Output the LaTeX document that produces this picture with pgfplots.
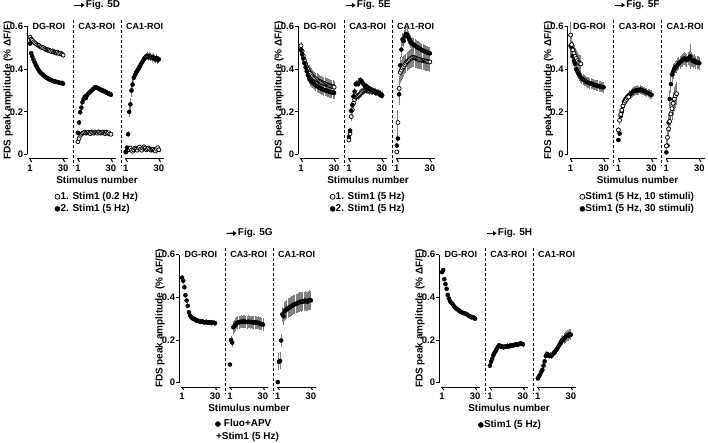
\documentclass[border=0pt]{standalone}
\usepackage{fontspec}
\setmainfont{Liberation Sans}
\usepackage{pgfplots}
\usepackage{pgfplotstable}
\pgfplotsset{compat=1.18}
\usetikzlibrary{arrows.meta}
\definecolor{eb}{gray}{0.5}

\pgfplotstableread{
n dgO dgOe dgF dgFe caO caOe caF caFe cbO cbOe cbF cbFe
1 0.550 0.012 0.520 0.012 0.060 0.008 0.102 0.008 0.012 0.006 0.012 0.006
2 0.540 0.012 0.475 0.012 0.075 0.008 0.150 0.010 0.020 0.008 0.032 0.008
3 0.535 0.012 0.460 0.010 0.090 0.008 0.198 0.012 0.030 0.008 0.095 0.015
4 0.528 0.012 0.445 0.010 0.095 0.010 0.220 0.015 0.022 0.008 0.200 0.025
5 0.524 0.012 0.432 0.010 0.100 0.010 0.245 0.015 0.030 0.008 0.235 0.030
6 0.520 0.012 0.420 0.010 0.102 0.010 0.260 0.015 0.020 0.008 0.300 0.030
7 0.515 0.012 0.410 0.010 0.105 0.010 0.270 0.015 0.015 0.008 0.328 0.025
8 0.512 0.012 0.400 0.010 0.100 0.010 0.265 0.015 0.022 0.008 0.360 0.020
9 0.510 0.012 0.392 0.010 0.102 0.010 0.278 0.012 0.030 0.008 0.372 0.020
10 0.505 0.012 0.385 0.010 0.105 0.010 0.285 0.012 0.025 0.008 0.385 0.018
11 0.503 0.012 0.380 0.010 0.100 0.010 0.290 0.012 0.020 0.008 0.392 0.018
12 0.500 0.012 0.375 0.010 0.098 0.010 0.295 0.012 0.030 0.008 0.400 0.018
13 0.500 0.012 0.370 0.010 0.105 0.010 0.300 0.012 0.035 0.008 0.410 0.018
14 0.495 0.012 0.365 0.010 0.102 0.010 0.305 0.012 0.025 0.008 0.420 0.018
15 0.492 0.012 0.362 0.010 0.100 0.010 0.310 0.012 0.020 0.008 0.430 0.018
16 0.490 0.012 0.358 0.010 0.105 0.010 0.315 0.012 0.030 0.008 0.440 0.018
17 0.490 0.012 0.355 0.010 0.102 0.010 0.314 0.012 0.036 0.008 0.448 0.018
18 0.488 0.012 0.352 0.010 0.100 0.010 0.312 0.012 0.030 0.008 0.455 0.018
19 0.485 0.012 0.350 0.010 0.106 0.010 0.310 0.012 0.022 0.008 0.460 0.018
20 0.482 0.012 0.348 0.010 0.104 0.010 0.306 0.012 0.026 0.008 0.462 0.018
21 0.485 0.012 0.345 0.010 0.100 0.010 0.304 0.012 0.030 0.008 0.458 0.018
22 0.480 0.012 0.343 0.010 0.102 0.010 0.300 0.012 0.025 0.008 0.462 0.018
23 0.480 0.012 0.342 0.010 0.105 0.010 0.300 0.012 0.020 0.008 0.456 0.018
24 0.476 0.012 0.340 0.010 0.100 0.010 0.296 0.012 0.022 0.008 0.452 0.018
25 0.480 0.012 0.340 0.010 0.098 0.010 0.294 0.012 0.025 0.008 0.456 0.018
26 0.475 0.012 0.338 0.010 0.104 0.010 0.290 0.012 0.020 0.008 0.450 0.018
27 0.472 0.012 0.336 0.010 0.100 0.010 0.288 0.012 0.016 0.008 0.446 0.018
28 0.475 0.012 0.334 0.010 0.102 0.010 0.285 0.012 0.025 0.008 0.452 0.018
29 0.470 0.012 0.336 0.010 0.096 0.010 0.284 0.012 0.032 0.008 0.442 0.018
30 0.466 0.012 0.332 0.010 0.095 0.010 0.280 0.012 0.022 0.008 0.446 0.018
}\tabD

\pgfplotstableread{
n dgO dgOe dgF dgFe caO caOe caF caFe cbO cbOe cbF cbFe
1 0.510 0.015 0.490 0.015 0.068 0.006 0.082 0.008 0.012 0.006 0.042 0.010
2 0.485 0.025 0.470 0.020 0.098 0.010 0.112 0.010 0.150 0.060 0.075 0.015
3 0.462 0.030 0.450 0.025 0.178 0.020 0.205 0.015 0.310 0.060 0.282 0.050
4 0.442 0.030 0.428 0.028 0.210 0.020 0.232 0.015 0.385 0.050 0.418 0.040
5 0.425 0.030 0.408 0.028 0.240 0.020 0.272 0.015 0.395 0.050 0.492 0.035
6 0.410 0.030 0.390 0.028 0.258 0.020 0.295 0.015 0.405 0.050 0.540 0.030
7 0.398 0.030 0.372 0.028 0.268 0.020 0.330 0.015 0.412 0.050 0.532 0.030
8 0.388 0.030 0.360 0.028 0.270 0.020 0.332 0.015 0.420 0.045 0.555 0.030
9 0.380 0.030 0.350 0.028 0.275 0.020 0.330 0.015 0.428 0.045 0.565 0.030
10 0.374 0.030 0.344 0.028 0.280 0.020 0.338 0.015 0.435 0.045 0.562 0.030
11 0.368 0.030 0.338 0.028 0.285 0.020 0.350 0.015 0.440 0.045 0.550 0.030
12 0.362 0.030 0.333 0.028 0.290 0.020 0.345 0.015 0.445 0.045 0.540 0.030
13 0.358 0.030 0.328 0.028 0.295 0.018 0.335 0.015 0.450 0.045 0.530 0.030
14 0.354 0.030 0.324 0.028 0.298 0.018 0.328 0.015 0.452 0.045 0.522 0.030
15 0.350 0.030 0.320 0.028 0.300 0.018 0.322 0.015 0.455 0.045 0.518 0.030
16 0.346 0.030 0.318 0.028 0.300 0.018 0.320 0.015 0.455 0.045 0.514 0.030
17 0.343 0.030 0.314 0.028 0.302 0.018 0.316 0.015 0.452 0.045 0.510 0.030
18 0.340 0.030 0.311 0.028 0.300 0.018 0.312 0.015 0.450 0.045 0.506 0.030
19 0.338 0.030 0.308 0.028 0.298 0.018 0.308 0.015 0.448 0.045 0.502 0.030
20 0.335 0.030 0.305 0.028 0.300 0.018 0.305 0.015 0.446 0.045 0.500 0.030
21 0.333 0.030 0.303 0.028 0.296 0.018 0.302 0.015 0.445 0.045 0.496 0.030
22 0.331 0.030 0.301 0.028 0.295 0.018 0.300 0.015 0.444 0.045 0.493 0.030
23 0.329 0.030 0.300 0.028 0.295 0.018 0.298 0.015 0.442 0.045 0.490 0.030
24 0.327 0.030 0.298 0.028 0.292 0.018 0.295 0.015 0.440 0.045 0.487 0.030
25 0.325 0.030 0.296 0.028 0.290 0.018 0.292 0.015 0.440 0.045 0.485 0.030
26 0.323 0.030 0.295 0.028 0.290 0.018 0.290 0.015 0.438 0.045 0.482 0.030
27 0.321 0.030 0.293 0.028 0.288 0.018 0.288 0.015 0.437 0.045 0.480 0.030
28 0.320 0.030 0.292 0.028 0.285 0.018 0.285 0.015 0.436 0.045 0.478 0.030
29 0.318 0.030 0.290 0.028 0.282 0.018 0.280 0.015 0.435 0.045 0.476 0.030
30 0.316 0.030 0.289 0.028 0.278 0.018 0.276 0.015 0.434 0.045 0.474 0.030
}\tabE

\pgfplotstableread{
n dgF dgFe caF caFe cbF cbFe
1 0.510 0.060 0.068 0.005 0.010 0.005
2 0.500 0.040 0.098 0.008 0.042 0.010
3 0.460 0.035 0.180 0.020 0.150 0.040
4 0.440 0.030 0.200 0.020 0.260 0.040
5 0.425 0.030 0.228 0.020 0.330 0.040
6 0.400 0.028 0.248 0.020 0.375 0.035
7 0.390 0.025 0.258 0.020 0.390 0.035
8 0.380 0.025 0.265 0.020 0.400 0.030
9 0.370 0.025 0.270 0.020 0.410 0.030
10 0.362 0.025 0.275 0.020 0.412 0.030
11 0.356 0.025 0.280 0.020 0.420 0.030
12 0.352 0.025 0.285 0.022 0.428 0.030
13 0.348 0.025 0.290 0.022 0.432 0.030
14 0.344 0.025 0.295 0.022 0.438 0.030
15 0.340 0.025 0.298 0.022 0.442 0.030
16 0.338 0.025 0.300 0.022 0.448 0.030
17 0.336 0.025 0.300 0.022 0.450 0.030
18 0.334 0.025 0.302 0.022 0.446 0.030
19 0.332 0.025 0.300 0.022 0.442 0.030
20 0.330 0.025 0.305 0.022 0.450 0.030
21 0.328 0.025 0.302 0.020 0.452 0.035
22 0.326 0.025 0.300 0.020 0.460 0.060
23 0.325 0.025 0.298 0.020 0.445 0.035
24 0.323 0.025 0.296 0.020 0.440 0.030
25 0.322 0.025 0.292 0.020 0.436 0.030
26 0.320 0.025 0.290 0.020 0.440 0.030
27 0.318 0.025 0.288 0.020 0.432 0.030
28 0.317 0.025 0.285 0.020 0.430 0.030
29 0.316 0.025 0.282 0.020 0.432 0.030
30 0.315 0.025 0.280 0.020 0.428 0.030
}\tabF

\pgfplotstableread{
n dgO dgOe caO caOe cbO cbOe
1 0.560 0.060 0.115 0.015 0.040 0.030
2 0.515 0.045 0.160 0.020 0.080 0.045
3 0.490 0.040 0.188 0.020 0.120 0.050
4 0.475 0.040 0.208 0.020 0.155 0.050
5 0.460 0.040 0.228 0.020 0.190 0.055
6 0.450 0.040 0.242 0.020 0.215 0.055
7 0.440 0.040 0.250 0.020 0.240 0.055
8 0.432 0.040 0.258 0.020 0.260 0.055
9 0.428 0.040 0.265 0.020 0.275 0.055
10 0.425 0.040 0.270 0.020 0.285 0.055
}\tabFo

\pgfplotstableread{
n dg dge ca cae cb cbe
1 0.492 0.015 0.085 0.004 0.003 0.004
2 0.478 0.015 0.200 0.020 0.098 0.040
3 0.448 0.015 0.188 0.020 0.102 0.040
4 0.410 0.012 0.260 0.030 0.198 0.030
5 0.385 0.012 0.265 0.030 0.320 0.035
6 0.360 0.012 0.272 0.030 0.312 0.040
7 0.330 0.012 0.280 0.030 0.335 0.045
8 0.315 0.012 0.282 0.030 0.340 0.045
9 0.308 0.012 0.284 0.030 0.345 0.045
10 0.302 0.012 0.285 0.030 0.350 0.045
11 0.300 0.012 0.286 0.030 0.352 0.045
12 0.298 0.012 0.285 0.030 0.355 0.045
13 0.295 0.012 0.288 0.030 0.360 0.045
14 0.290 0.012 0.286 0.030 0.362 0.045
15 0.290 0.012 0.285 0.030 0.365 0.045
16 0.288 0.012 0.284 0.030 0.368 0.045
17 0.286 0.012 0.286 0.030 0.370 0.045
18 0.285 0.012 0.285 0.030 0.372 0.045
19 0.287 0.012 0.284 0.030 0.375 0.045
20 0.284 0.012 0.285 0.030 0.378 0.045
21 0.283 0.012 0.283 0.030 0.380 0.045
22 0.285 0.012 0.282 0.030 0.378 0.045
23 0.282 0.012 0.284 0.030 0.382 0.045
24 0.284 0.012 0.282 0.030 0.380 0.045
25 0.281 0.012 0.280 0.030 0.385 0.045
26 0.283 0.012 0.281 0.030 0.382 0.045
27 0.280 0.012 0.278 0.030 0.380 0.045
28 0.282 0.012 0.276 0.030 0.385 0.045
29 0.280 0.012 0.275 0.030 0.388 0.045
30 0.279 0.012 0.272 0.030 0.386 0.045
}\tabG

\pgfplotstableread{
n dg dge ca cae cb cbe
1 0.518 0.008 0.080 0.008 0.020 0.006
2 0.528 0.008 0.098 0.008 0.030 0.006
3 0.485 0.008 0.112 0.008 0.038 0.006
4 0.462 0.008 0.128 0.008 0.050 0.008
5 0.440 0.008 0.140 0.008 0.060 0.008
6 0.412 0.008 0.148 0.010 0.080 0.010
7 0.395 0.008 0.158 0.010 0.100 0.012
8 0.382 0.008 0.168 0.010 0.125 0.015
9 0.376 0.008 0.175 0.010 0.135 0.015
10 0.370 0.008 0.172 0.010 0.130 0.015
11 0.362 0.008 0.168 0.012 0.125 0.015
12 0.355 0.008 0.170 0.012 0.130 0.015
13 0.350 0.008 0.166 0.012 0.126 0.015
14 0.346 0.008 0.168 0.012 0.132 0.015
15 0.342 0.008 0.170 0.012 0.138 0.015
16 0.338 0.008 0.172 0.012 0.145 0.015
17 0.334 0.008 0.170 0.012 0.152 0.018
18 0.330 0.008 0.172 0.012 0.160 0.018
19 0.328 0.008 0.174 0.012 0.168 0.018
20 0.326 0.008 0.175 0.012 0.178 0.020
21 0.325 0.008 0.176 0.012 0.188 0.020
22 0.322 0.008 0.175 0.012 0.195 0.022
23 0.320 0.008 0.178 0.012 0.200 0.022
24 0.316 0.008 0.180 0.012 0.208 0.025
25 0.312 0.008 0.178 0.012 0.212 0.025
26 0.310 0.008 0.180 0.012 0.218 0.025
27 0.306 0.008 0.182 0.012 0.222 0.025
28 0.308 0.008 0.184 0.012 0.220 0.025
29 0.304 0.008 0.182 0.012 0.228 0.025
30 0.300 0.008 0.180 0.012 0.225 0.025
}\tabH

\tikzset{
 axln/.style={line width=1bp, black},
 dsh/.style={line width=0.9bp, black, dash pattern=on 3bp off 2bp},
 tl/.style={font=\bfseries\fontsize{9.5}{11}\selectfont, inner sep=0pt},
 roi/.style={font=\bfseries\fontsize{9}{11}\selectfont, inner sep=0pt},
 lab/.style={font=\bfseries\fontsize{10}{12}\selectfont, inner sep=0pt},
 hdr/.style={line width=1.1bp, -{Triangle[length=3.5bp,width=4.5bp]}},
}

\pgfplotsset{
 panel/.style={scale only axis, width=138.4bp, height=128bp,
  xmin=-1.4, xmax=120, ymin=0, ymax=0.6, clip=false,
  axis x line=none, axis y line*=left, xtick=\empty,
  ytick={0,0.2,0.4,0.6}, yticklabels={0,0.2,0.4,0.6},
  tick align=outside, major tick length=3bp,
  every tick/.style={black, line width=1bp},
  axis line style={line width=1bp, black},
  yticklabel style={font=\bfseries\fontsize{9.5}{11}\selectfont, inner sep=1bp},
  legend style={draw=none, fill=none, font=\bfseries\fontsize{10}{12}\selectfont, anchor=north, at={(axis description cs:0.5016,-0.29)}, inner sep=0pt, row sep=2.2bp, nodes={inner sep=0.6bp}},
  legend cell align=left,
 },
 fs/.style={only marks, mark=*, mark size=2bp, mark options={draw=black, fill=black, line width=0.5bp},
  error bars/y dir=both, error bars/y explicit, error bars/error mark=none,
  error bars/error bar style={eb, line width=0.9bp, solid},
  legend image code/.code={\draw[##1, mark size=2.5bp] plot coordinates {(0bp,0bp)};}},
 os/.style={fs, mark options={draw=black, fill=white, line width=0.75bp}},
}

\newcommand\decor[1]{%
 \node[lab, rotate=90] at (axis description cs:-0.14,0.5) {FDS peak amplitude (\% ΔF/F)};
 \draw[axln] (axis cs:0.4,-0.021) -- (axis cs:34.6,-0.021);
 \draw[axln] (axis cs:42.4,-0.021) -- (axis cs:76.6,-0.021);
 \draw[axln] (axis cs:84.4,-0.021) -- (axis cs:118.6,-0.021);
 \draw[axln] (axis cs:1,-0.021) -- ++(0,-3bp);
 \draw[axln] (axis cs:30,-0.021) -- ++(0,-3bp);
 \draw[axln] (axis cs:43,-0.021) -- ++(0,-3bp);
 \draw[axln] (axis cs:72,-0.021) -- ++(0,-3bp);
 \draw[axln] (axis cs:85,-0.021) -- ++(0,-3bp);
 \draw[axln] (axis cs:114,-0.021) -- ++(0,-3bp);
 \node[tl] at (axis cs:1,-0.063) {1};
 \node[tl] at (axis cs:30,-0.063) {30};
 \node[tl] at (axis cs:43,-0.063) {1};
 \node[tl] at (axis cs:72,-0.063) {30};
 \node[tl] at (axis cs:85,-0.063) {1};
 \node[tl] at (axis cs:114,-0.063) {30};
 \draw[dsh] (axis cs:39,0.63) -- (axis cs:39,-0.05);
 \draw[dsh] (axis cs:81,0.63) -- (axis cs:81,-0.05);
 \node[roi] at (axis cs:17.5,0.6) {DG-ROI};
 \node[roi] at (axis cs:59.5,0.6) {CA3-ROI};
 \node[roi] at (axis cs:101.5,0.6) {CA1-ROI};
 \node[lab] at (axis cs:59.75,-0.12) {Stimulus number};
 \draw[hdr] (axis cs:40,0.70) -- ++(8.5bp,0) node[lab, right, inner sep=0.8bp] {#1};
}

\begin{document}
\begin{tikzpicture}
\useasboundingbox (0,0) rectangle (708bp,443bp);

% Panel D
\begin{axis}[panel, at={(27.3bp,288.5bp)}, anchor=south west]
\addplot[os] table[x=n, y=dgO, y error=dgOe]{\tabD}; \addlegendentry{1. Stim1 (0.2 Hz)}
\addplot[fs] table[x=n, y=dgF, y error=dgFe]{\tabD}; \addlegendentry{2. Stim1 (5 Hz)}
\addplot[os] table[x expr=\thisrow{n}+42, y=caO, y error=caOe]{\tabD};
\addplot[fs] table[x expr=\thisrow{n}+42, y=caF, y error=caFe]{\tabD};
\addplot[os] table[x expr=\thisrow{n}+84, y=cbO, y error=cbOe]{\tabD};
\addplot[fs] table[x expr=\thisrow{n}+84, y=cbF, y error=cbFe]{\tabD};
\decor{Fig. 5D}
\end{axis}

% Panel E
\begin{axis}[panel, at={(298.3bp,288.5bp)}, anchor=south west]
\addplot[os] table[x=n, y=dgO, y error=dgOe]{\tabE}; \addlegendentry{1. Stim1 (5 Hz)}
\addplot[fs] table[x=n, y=dgF, y error=dgFe]{\tabE}; \addlegendentry{2. Stim1 (5 Hz)}
\addplot[os] table[x expr=\thisrow{n}+42, y=caO, y error=caOe]{\tabE};
\addplot[fs] table[x expr=\thisrow{n}+42, y=caF, y error=caFe]{\tabE};
\addplot[os] table[x expr=\thisrow{n}+84, y=cbO, y error=cbOe]{\tabE};
\addplot[fs] table[x expr=\thisrow{n}+84, y=cbF, y error=cbFe]{\tabE};
\decor{Fig. 5E}
\end{axis}

% Panel F
\begin{axis}[panel, at={(567.8bp,288.5bp)}, anchor=south west]
\addlegendimage{os}\addlegendentry{Stim1 (5 Hz, 10 stimuli)}
\addlegendimage{fs}\addlegendentry{Stim1 (5 Hz, 30 stimuli)}
\addplot[fs, forget plot] table[x=n, y=dgF, y error=dgFe]{\tabF};
\addplot[os, forget plot] table[x=n, y=dgO, y error=dgOe]{\tabFo};
\addplot[fs, forget plot] table[x expr=\thisrow{n}+42, y=caF, y error=caFe]{\tabF};
\addplot[os, forget plot] table[x expr=\thisrow{n}+42, y=caO, y error=caOe]{\tabFo};
\addplot[fs, forget plot] table[x expr=\thisrow{n}+84, y=cbF, y error=cbFe]{\tabF};
\addplot[os, forget plot] table[x expr=\thisrow{n}+84, y=cbO, y error=cbOe]{\tabFo};
\decor{Fig. 5F}
\end{axis}

% Panel G
\begin{axis}[panel, at={(179.3bp,60.3bp)}, anchor=south west,
  legend style={at={(axis description cs:0.465,-0.283)}}]
\addplot[fs] table[x=n, y=dg, y error=dge]{\tabG}; \addlegendentry{\hspace{3bp}Fluo+APV}
\addplot[fs] table[x expr=\thisrow{n}+42, y=ca, y error=cae]{\tabG};
\addplot[fs] table[x expr=\thisrow{n}+84, y=cb, y error=cbe]{\tabG};
\decor{Fig. 5G}
\node[lab] at (axis cs:58.4,-0.253) {+Stim1 (5 Hz)};
\end{axis}

% Panel H
\begin{axis}[panel, at={(439.3bp,60.3bp)}, anchor=south west,
  legend style={at={(axis description cs:0.511,-0.29)}}]
\addplot[fs] table[x=n, y=dg, y error=dge]{\tabH}; \addlegendentry{Stim1 (5 Hz)}
\addplot[fs] table[x expr=\thisrow{n}+42, y=ca, y error=cae]{\tabH};
\addplot[fs] table[x expr=\thisrow{n}+84, y=cb, y error=cbe]{\tabH};
\decor{Fig. 5H}
\end{axis}
\end{tikzpicture}
\end{document}
